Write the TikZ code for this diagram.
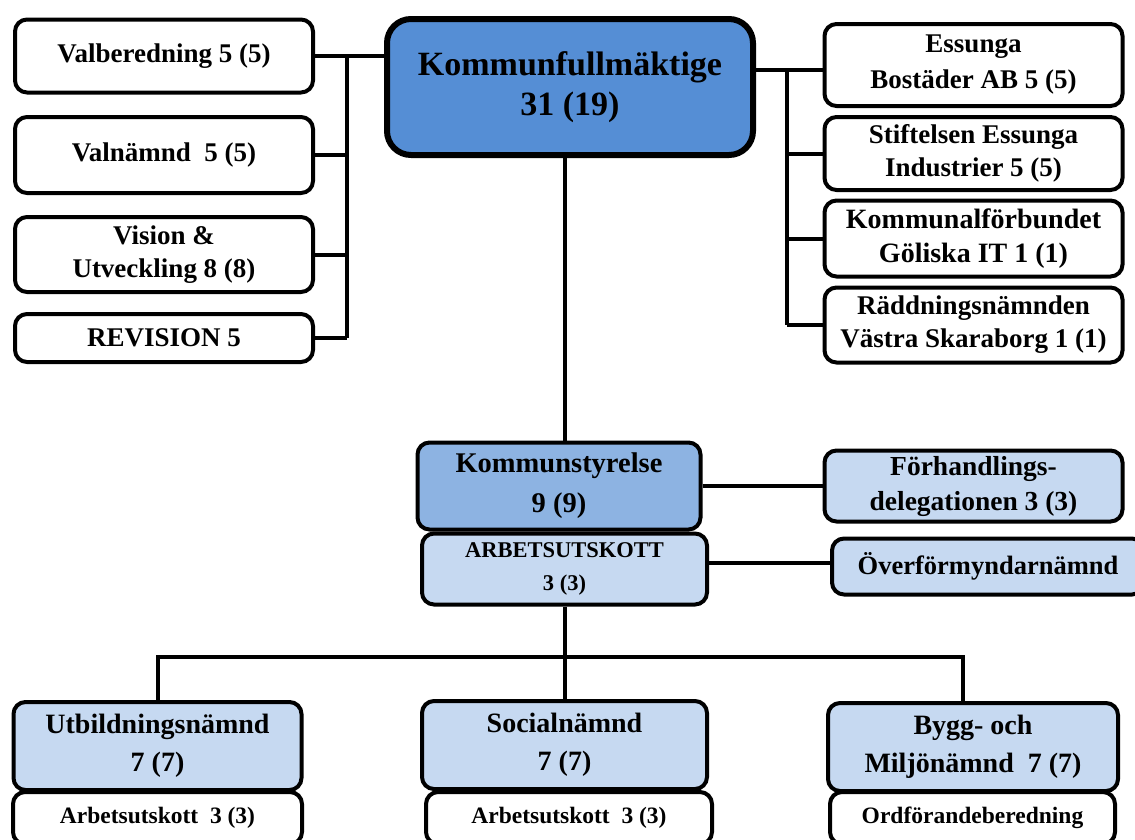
\documentclass[tikz,border=0pt]{standalone}
\usepackage{fontspec}
\setmainfont{Liberation Serif}
\usetikzlibrary{positioning}

\definecolor{kfblue}{HTML}{558ED5}
\definecolor{ksblue}{HTML}{8DB3E2}
\definecolor{lightblue}{HTML}{C6D9F1}

\tikzset{
  orgbox/.style={draw, line width=4pt, rounded corners=12pt, fill=white, align=center, inner sep=0pt},
  sidebox/.style={orgbox, minimum width=298pt, font=\bfseries\fontsize{27}{33}\selectfont},
  kfbox/.style={orgbox, line width=6pt, rounded corners=24pt, fill=kfblue, minimum width=366pt, minimum height=136pt, font=\bfseries\fontsize{34}{40}\selectfont},
  nbox/.style={orgbox, fill=lightblue, minimum width=288pt, minimum height=88pt, font=\bfseries\fontsize{28}{38}\selectfont},
  subbox/.style={orgbox, minimum width=286pt, minimum height=52pt, font=\bfseries\fontsize{23.5}{28}\selectfont},
  link/.style={line width=4pt}
}

\begin{document}
\begin{tikzpicture}[x=1pt, y=-1pt]
  \fill[white] (0,0) rectangle (1135,839);
  \useasboundingbox (0,0) rectangle (1135,839);
  \clip (0,0) rectangle (1135,839);

  % fullmaktige
  \node[kfbox] (kf) at (570,87) {Kommunfullmäktige\\31 (19)};

  % vänster kolumn
  \node[sidebox, minimum height=73pt] (valb) at (164,56) {Valberedning 5 (5)};
  \node[sidebox, minimum height=76pt] (valn) at (164,155) {Valnämnd\ \ 5 (5)};
  \node[sidebox, minimum height=75pt] (vis) at (164,254.5) {Vision \&\\Utveckling 8 (8)};
  \node[sidebox, minimum height=48pt] (rev) at (164,338) {REVISION 5};
  \coordinate (lbus) at (347,0);

  % höger kolumn
  \node[sidebox, minimum height=82pt, font=\bfseries\fontsize{27}{36}\selectfont] (ess) at (973.5,65) {Essunga\\Bostäder AB 5 (5)};
  \node[sidebox, minimum height=73pt] (stift) at (973.5,153.5) {Stiftelsen Essunga\\Industrier 5 (5)};
  \node[sidebox, minimum height=76pt, font=\bfseries\fontsize{28}{34}\selectfont] (gol) at (973.5,238.5) {Kommunalförbundet\\Göliska IT 1 (1)};
  \node[sidebox, minimum height=75pt] (radd) at (973.5,325) {Räddningsnämnden\\Västra Skaraborg 1 (1)};
  \coordinate (rbus) at (787,0);

  % styrelse
  \node[orgbox, fill=ksblue, minimum width=283pt, minimum height=87pt, font=\bfseries\fontsize{28.5}{40}\selectfont] (ks) at (559,486) {Kommunstyrelse\\9 (9)};
  \node[orgbox, fill=lightblue, minimum width=285pt, minimum height=71pt, font=\bfseries\fontsize{22.5}{33}\selectfont] (au) at (564.5,569) {ARBETSUTSKOTT\\3 (3)};
  \node[sidebox, fill=lightblue, minimum height=71pt, font=\bfseries\fontsize{27.5}{35}\selectfont] (forh) at (973.5,486) {Förhandlings-\\delegationen 3 (3)};
  \node[orgbox, fill=lightblue, minimum width=312pt, minimum height=56pt, font=\bfseries\fontsize{26.5}{32}\selectfont] (over) at (988,566.5) {Överförmyndarnämnd};

  % nämnder
  \node[nbox] (utb) at (157.5,746) {Utbildningsnämnd\\7 (7)};
  \node[nbox, minimum width=285pt] (soc) at (564.5,745) {Socialnämnd\\7 (7)};
  \node[nbox, minimum width=290pt] (bygg) at (973,747) {Bygg- och\\Miljönämnd\ \ 7 (7)};
  \node[subbox, minimum width=289pt] (utbau) at (157.5,818) {Arbetsutskott\ \ 3 (3)};
  \node[subbox] (socau) at (569,818) {Arbetsutskott\ \ 3 (3)};
  \node[subbox, minimum width=285pt] (byggord) at (972.5,818) {Ordförandeberedning};
  \coordinate (bbus) at (0,657);

  % linjer vänster
  \draw[link] (valb.east) -- (kf.west |- valb.east);
  \draw[link] (valb.east -| lbus) -- (rev.east -| lbus);
  \draw[link] (valn.east) -- (valn.east -| lbus);
  \draw[link] (vis.east) -- (vis.east -| lbus);
  \draw[link] (rev.east) -- (rev.east -| lbus);

  % linjer höger
  \draw[link] ([yshift=-5pt]ess.west) -- ([yshift=-5pt]ess.west -| kf.east);
  \draw[link] ([yshift=-5pt]ess.west -| rbus) -- (radd.west -| rbus);
  \draw[link] (stift.west) -- (stift.west -| rbus);
  \draw[link] (gol.west) -- (gol.west -| rbus);
  \draw[link] (radd.west) -- (radd.west -| rbus);

  % stam
  \draw[link] (kf.south -| au.north) -- (ks.north -| au.north);
  \draw[link] (ks.east) -- (forh.west);
  \draw[link] ([yshift=6pt]au.east) -- ([yshift=6pt]au.east -| over.west);
  \draw[link] (au.south) -- (soc.north);
  \draw[link] (utb.north) |- (au.south |- bbus) -| ([xshift=-10pt]bygg.north);
\end{tikzpicture}
\end{document}
